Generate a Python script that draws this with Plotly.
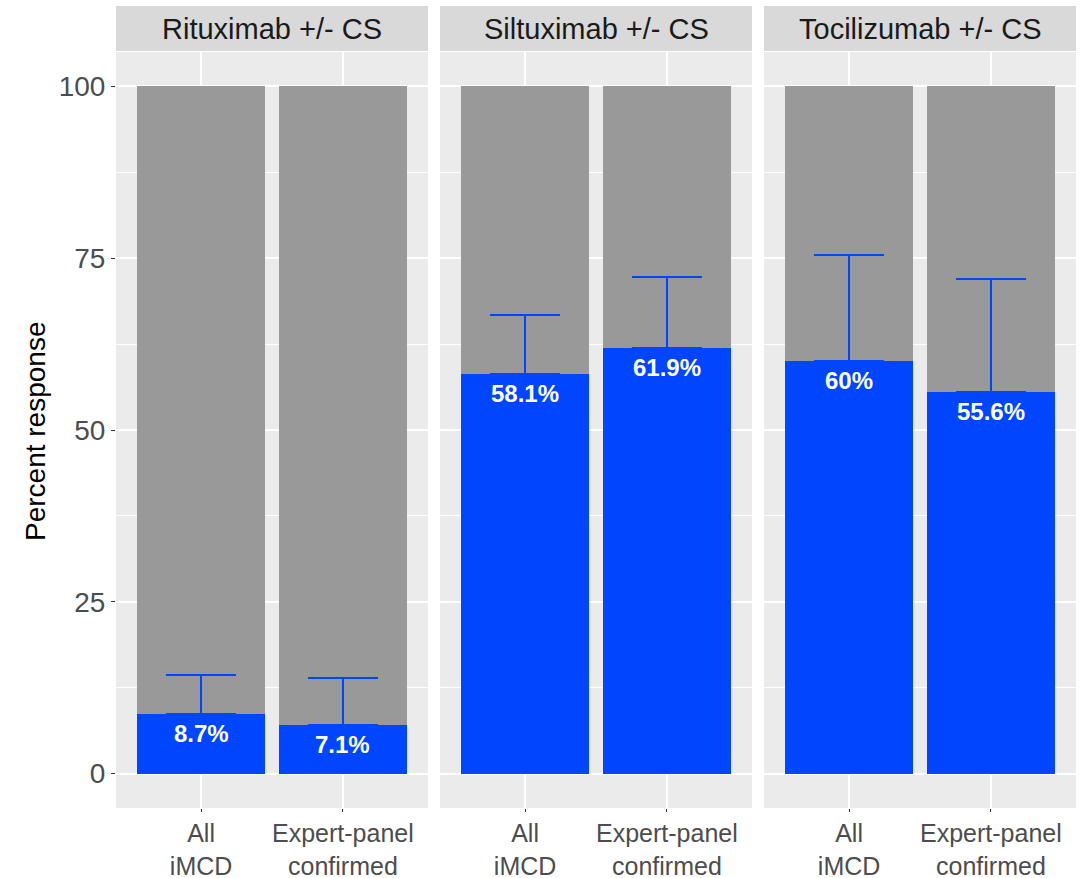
import plotly.graph_objects as go

# Response rates (%) with upper confidence limits, per treatment and cohort
panels = ["Rituximab +/- CS", "Siltuximab +/- CS", "Tocilizumab +/- CS"]
groups = ["All<br>iMCD", "Expert-panel<br>confirmed"]
response = [[8.7, 7.1], [58.1, 61.9], [60.0, 55.6]]
upper_ci = [[14.4, 13.9], [66.8, 72.3], [75.4, 71.9]]
total = [100, 100]
y_ticks = [0, 25, 50, 75, 100]

W, H = 1091, 878
BLUE = "#0045FF"
GREY_BAR = "#999999"
FONT = "Liberation Sans, Arial, sans-serif"

# panel placement in pixels (left, right) and vertical extent (top, bottom)
panel_x = [(116, 428), (440, 752), (764, 1076)]
plot_top, plot_bot = 52, 808
strip_top, strip_bot = 6, 51

fig = go.Figure()
positions = list(range(1, len(groups) + 1))

for i, name in enumerate(panels):
    sfx = "" if i == 0 else str(i + 1)
    xa, ya = f"x{sfx}", f"y{sfx}"
    fig.add_trace(go.Bar(
        x=positions, y=total, width=0.9,
        marker=dict(color=GREY_BAR, line_width=0),
        xaxis=xa, yaxis=ya, showlegend=False, hoverinfo="skip",
    ))
    fig.add_trace(go.Bar(
        x=positions, y=response[i], width=0.9,
        marker=dict(color=BLUE, line_width=0),
        error_y=dict(
            type="data", symmetric=False,
            array=[u - v for u, v in zip(upper_ci[i], response[i])],
            arrayminus=[0] * len(positions),
            color=BLUE, thickness=2, width=35,
        ),
        xaxis=xa, yaxis=ya, showlegend=False,
    ))
    # value labels just inside the top of each blue bar
    for p, v in zip(positions, response[i]):
        fig.add_annotation(
            x=p, y=v, xref=xa, yref=ya, text=f"<b>{v:g}%</b>",
            showarrow=False, yanchor="top", yshift=-4,
            font=dict(family=FONT, size=24, color="white"),
        )

    x0, x1 = panel_x[i]
    fig.layout[f"xaxis{sfx}"] = dict(
        domain=[x0 / W, x1 / W], range=[0.4, 2.6],
        tickmode="array", tickvals=positions, ticktext=groups,
        showgrid=True, gridcolor="white", gridwidth=1.6,
        ticks="outside", ticklen=3, tickcolor="#333333", tickwidth=1,
        tickfont=dict(family=FONT, size=25, color="#4D4D4D"),
        zeroline=False, showline=False, anchor=ya, fixedrange=True,
        automargin=False,
    )
    fig.layout[f"yaxis{sfx}"] = dict(
        domain=[1 - plot_bot / H, 1 - plot_top / H], range=[-5, 105],
        tickmode="array", tickvals=y_ticks,
        showticklabels=(i == 0),
        ticks="outside" if i == 0 else "", ticklen=4, tickcolor="#333333",
        tickfont=dict(family=FONT, size=28, color="#4D4D4D"),
        showgrid=True, gridcolor="white", gridwidth=1.6,
        minor=dict(tickmode="array", tickvals=[12.5, 37.5, 62.5, 87.5],
                   showgrid=True, gridcolor="white", gridwidth=0.8),
        zeroline=False, showline=False, anchor=xa, fixedrange=True,
        automargin=False,
    )

    # facet strip
    fig.add_shape(
        type="rect", xref="paper", yref="paper",
        x0=x0 / W, x1=x1 / W, y0=1 - strip_bot / H, y1=1 - strip_top / H,
        fillcolor="#D9D9D9", line_width=0, layer="below",
    )
    fig.add_annotation(
        x=(x0 + x1) / 2 / W, y=1 - (strip_top + strip_bot + 2) / 2 / H,
        xref="paper", yref="paper", text=name, showarrow=False,
        xanchor="center", yanchor="middle",
        font=dict(family=FONT, size=29, color="#1A1A1A"),
    )

fig.add_annotation(
    x=36 / W, y=1 - 432 / H, xref="paper", yref="paper",
    text="Percent response", textangle=-90, showarrow=False,
    xanchor="center", yanchor="middle",
    font=dict(family=FONT, size=28, color="black"),
)

fig.update_layout(
    width=W, height=H, autosize=False,
    margin=dict(l=0, r=0, t=0, b=0, autoexpand=False),
    barmode="overlay", bargap=0,
    paper_bgcolor="white", plot_bgcolor="#EBEBEB",
    font=dict(family=FONT),
)

fig.write_html("out.html")
